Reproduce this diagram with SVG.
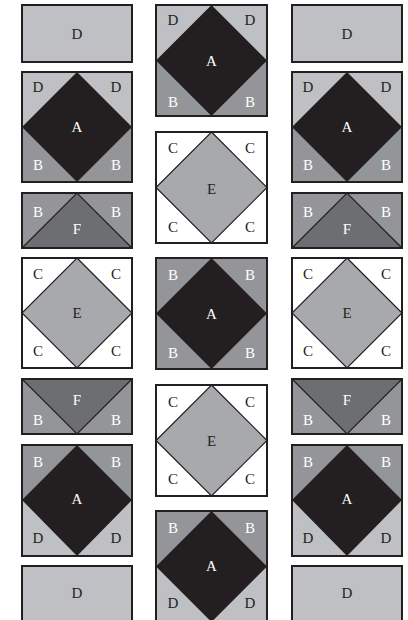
<svg xmlns="http://www.w3.org/2000/svg" width="408" height="620" viewBox="0 0 408 620" font-family="'Liberation Serif', 'Times New Roman', serif">
<style>
.d{fill:#bfc0c3}.b{fill:#939598}.a{fill:#231f20}.e{fill:#a7a9ac}.f{fill:#6d6e71}.c{fill:#ffffff}
.ln{fill:none;stroke:#231f20;stroke-width:1.2;stroke-linejoin:miter}
.bd{fill:none;stroke:#231f20;stroke-width:2}
text{font-family:"Liberation Serif","Times New Roman",serif;font-size:15px;text-anchor:middle;dominant-baseline:central}
.w{fill:#ffffff}.k{fill:#231f20}
</style>
<rect width="408" height="620" fill="#ffffff"/>

<!-- LEFT COLUMN -->
<g id="L1">
<rect class="d" x="22" y="5" width="110" height="57"/><rect class="bd" x="22" y="5" width="110" height="57"/>
<text class="k" x="77" y="34">D</text></g>
<g id="L2">
<rect class="d" x="22" y="72" width="110" height="55"/><rect class="b" x="22" y="127" width="110" height="55"/>
<polygon class="a" points="77,72 132,127 77,182 22,127"/><rect class="bd" x="22" y="72" width="110" height="110"/>
<text class="k" x="38" y="87">D</text><text class="k" x="116" y="87">D</text><text class="w" x="77" y="127">A</text>
<text class="w" x="38" y="165">B</text><text class="w" x="116" y="165">B</text></g>
<g id="L3">
<rect class="b" x="22" y="193" width="110" height="55"/><polygon class="f" points="22,248 77,193 132,248"/>
<polyline class="ln" points="22,248 77,193 132,248"/><rect class="bd" x="22" y="193" width="110" height="55"/>
<text class="w" x="38" y="212">B</text><text class="w" x="116" y="212">B</text><text class="w" x="77" y="229">F</text></g>
<g id="L4">
<rect class="c" x="22" y="258" width="110" height="110"/><polygon class="e" points="77,258 132,313 77,368 22,313"/>
<polygon class="ln" points="77,258 132,313 77,368 22,313"/><rect class="bd" x="22" y="258" width="110" height="110"/>
<text class="k" x="38" y="274">C</text><text class="k" x="116" y="274">C</text><text class="k" x="77" y="313">E</text>
<text class="k" x="38" y="351">C</text><text class="k" x="116" y="351">C</text></g>
<g id="L5">
<rect class="b" x="22" y="379" width="110" height="55"/><polygon class="f" points="22,379 77,434 132,379"/>
<polyline class="ln" points="22,379 77,434 132,379"/><rect class="bd" x="22" y="379" width="110" height="55"/>
<text class="w" x="77" y="400">F</text><text class="w" x="38" y="420">B</text><text class="w" x="116" y="420">B</text></g>
<g id="L6">
<rect class="b" x="22" y="445" width="110" height="55"/><rect class="d" x="22" y="500" width="110" height="56"/>
<polygon class="a" points="77,445 132,500 77,556 22,500"/><rect class="bd" x="22" y="445" width="110" height="111"/>
<text class="w" x="38" y="462">B</text><text class="w" x="116" y="462">B</text><text class="w" x="77" y="499">A</text>
<text class="k" x="38" y="538">D</text><text class="k" x="116" y="538">D</text></g>
<g id="L7">
<rect class="d" x="22" y="566" width="110" height="60"/><rect class="bd" x="22" y="566" width="110" height="60"/>
<text class="k" x="77" y="593">D</text></g>

<!-- MIDDLE COLUMN -->
<g id="M1">
<rect class="d" x="156" y="5" width="111" height="55.5"/><rect class="b" x="156" y="60.5" width="111" height="55.5"/>
<polygon class="a" points="211.5,5 267,60.5 211.5,116 156,60.5"/><rect class="bd" x="156" y="5" width="111" height="111"/>
<text class="k" x="173" y="20">D</text><text class="k" x="250" y="20">D</text><text class="w" x="211.5" y="61">A</text>
<text class="w" x="173" y="102">B</text><text class="w" x="250" y="102">B</text></g>
<g id="M2">
<rect class="c" x="156" y="132" width="111" height="111"/><polygon class="e" points="211.5,132 267,187.5 211.5,243 156,187.5"/>
<polygon class="ln" points="211.5,132 267,187.5 211.5,243 156,187.5"/><rect class="bd" x="156" y="132" width="111" height="111"/>
<text class="k" x="173" y="148">C</text><text class="k" x="250" y="148">C</text><text class="k" x="211.5" y="189">E</text>
<text class="k" x="173" y="227">C</text><text class="k" x="250" y="227">C</text></g>
<g id="M3">
<rect class="b" x="156" y="258" width="111" height="111"/>
<polygon class="a" points="211.5,258 267,313.5 211.5,369 156,313.5"/><rect class="bd" x="156" y="258" width="111" height="111"/>
<text class="w" x="173" y="275">B</text><text class="w" x="250" y="275">B</text><text class="w" x="211.5" y="314">A</text>
<text class="w" x="173" y="353">B</text><text class="w" x="250" y="353">B</text></g>
<g id="M4">
<rect class="c" x="156" y="385" width="111" height="111"/><polygon class="e" points="211.5,385 267,440.5 211.5,496 156,440.5"/>
<polygon class="ln" points="211.5,385 267,440.5 211.5,496 156,440.5"/><rect class="bd" x="156" y="385" width="111" height="111"/>
<text class="k" x="173" y="402">C</text><text class="k" x="250" y="402">C</text><text class="k" x="211.5" y="441">E</text>
<text class="k" x="173" y="479">C</text><text class="k" x="250" y="479">C</text></g>
<g id="M5">
<rect class="b" x="156" y="511" width="111" height="55.5"/><rect class="d" x="156" y="566.5" width="111" height="56"/>
<polygon class="a" points="211.5,511 267,566.5 211.5,622 156,566.5"/><rect class="bd" x="156" y="511" width="111" height="111"/>
<text class="w" x="173" y="528">B</text><text class="w" x="250" y="528">B</text><text class="w" x="211.5" y="566">A</text>
<text class="k" x="173" y="603">D</text><text class="k" x="250" y="603">D</text></g>

<!-- RIGHT COLUMN -->
<g id="R1">
<rect class="d" x="292" y="5" width="110" height="57"/><rect class="bd" x="292" y="5" width="110" height="57"/>
<text class="k" x="347" y="34">D</text></g>
<g id="R2">
<rect class="d" x="292" y="72" width="110" height="55"/><rect class="b" x="292" y="127" width="110" height="55"/>
<polygon class="a" points="347,72 402,127 347,182 292,127"/><rect class="bd" x="292" y="72" width="110" height="110"/>
<text class="k" x="308" y="87">D</text><text class="k" x="386" y="87">D</text><text class="w" x="347" y="127">A</text>
<text class="w" x="308" y="165">B</text><text class="w" x="386" y="165">B</text></g>
<g id="R3">
<rect class="b" x="292" y="193" width="110" height="55"/><polygon class="f" points="292,248 347,193 402,248"/>
<polyline class="ln" points="292,248 347,193 402,248"/><rect class="bd" x="292" y="193" width="110" height="55"/>
<text class="w" x="308" y="212">B</text><text class="w" x="386" y="212">B</text><text class="w" x="347" y="229">F</text></g>
<g id="R4">
<rect class="c" x="292" y="258" width="110" height="110"/><polygon class="e" points="347,258 402,313 347,368 292,313"/>
<polygon class="ln" points="347,258 402,313 347,368 292,313"/><rect class="bd" x="292" y="258" width="110" height="110"/>
<text class="k" x="308" y="274">C</text><text class="k" x="386" y="274">C</text><text class="k" x="347" y="313">E</text>
<text class="k" x="308" y="351">C</text><text class="k" x="386" y="351">C</text></g>
<g id="R5">
<rect class="b" x="292" y="379" width="110" height="55"/><polygon class="f" points="292,379 347,434 402,379"/>
<polyline class="ln" points="292,379 347,434 402,379"/><rect class="bd" x="292" y="379" width="110" height="55"/>
<text class="w" x="347" y="400">F</text><text class="w" x="308" y="420">B</text><text class="w" x="386" y="420">B</text></g>
<g id="R6">
<rect class="b" x="292" y="445" width="110" height="55"/><rect class="d" x="292" y="500" width="110" height="56"/>
<polygon class="a" points="347,445 402,500 347,556 292,500"/><rect class="bd" x="292" y="445" width="110" height="111"/>
<text class="w" x="308" y="462">B</text><text class="w" x="386" y="462">B</text><text class="w" x="347" y="499">A</text>
<text class="k" x="308" y="538">D</text><text class="k" x="386" y="538">D</text></g>
<g id="R7">
<rect class="d" x="292" y="566" width="110" height="60"/><rect class="bd" x="292" y="566" width="110" height="60"/>
<text class="k" x="347" y="593">D</text></g>

<g id="connectors"></g>
</svg>
